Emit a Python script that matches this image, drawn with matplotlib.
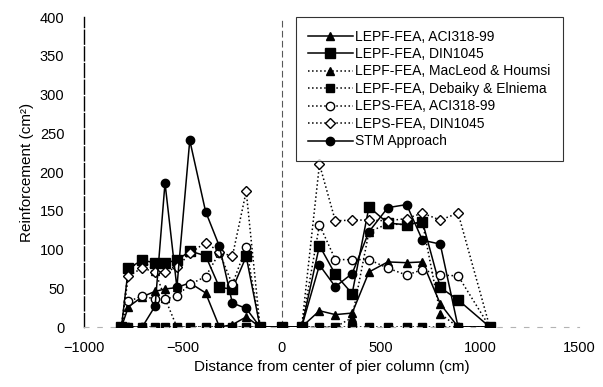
import matplotlib
matplotlib.use("Agg")
import matplotlib.pyplot as plt

plt.rcParams['font.family'] = ['Liberation Sans', 'DejaVu Sans']

# positions along the cap beam (cm)
x = [-810, -775, -705, -640, -590, -530, -465, -385, -315, -250, -180, -110,
     0, 100, 190, 270, 355, 440, 535, 630, 710, 800, 890, 1050]

lepf_aci = [0, 26, 39, 46, 49, 51, 57, 44, 0, 3, 13, 0,
            0, 0, 21, 16, 18, 71, 84, 83, 84, 30, 0, 0]
lepf_din = [0, 76, 86, 83, 83, 86, 98, 92, 51, 49, 91, 0,
            0, 0, 105, 68, 43, 155, 134, 132, 136, 51, 35, 0]
lepf_macleod = [0, 75, 86, 72, 37, 0, 0, 0, 0, 0, 0, 0,
                0, 0, 0, 0, 12, 123, 133, 132, 135, 17, 0, 0]
lepf_debaiky = [0] * 24
leps_aci = [0, 33, 40, 36, 36, 40, 55, 65, 96, 55, 103, 0,
            0, 0, 132, 87, 87, 87, 76, 67, 74, 67, 66, 0]
leps_din = [0, 66, 76, 71, 71, 77, 95, 109, 97, 91, 175, 0,
            0, 0, 210, 137, 138, 138, 137, 140, 147, 138, 147, 0]
stm = [0, 0, 0, 27, 186, 51, 241, 149, 104, 31, 24, 0,
       0, 0, 80, 52, 69, 123, 154, 158, 112, 107, 0, 0]

fig, ax = plt.subplots(figsize=(6.03, 3.87), dpi=100)
fig.subplots_adjust(left=0.139, right=0.96, bottom=0.155, top=0.956)

ax.axvline(0, color='0.35', lw=0.8, ls=(0, (6, 3)), zorder=1)

ax.plot(x, lepf_macleod, ls=':', color='k', lw=1.1, marker='^', ms=5.5,
        label='LEPF-FEA, MacLeod & Houmsi', zorder=2)
ax.plot(x, lepf_debaiky, ls=':', color='k', lw=1.1, marker='s', ms=6,
        label='LEPF-FEA, Debaiky & Elniema', zorder=2)
ax.plot(x, lepf_aci, ls='-', color='k', lw=1.1, marker='^', ms=6,
        label='LEPF-FEA, ACI318-99', zorder=3)
ax.plot(x, lepf_din, ls='-', color='k', lw=1.1, marker='s', ms=6.5,
        label='LEPF-FEA, DIN1045', zorder=3)
ax.plot(x, leps_aci, ls=':', color='k', lw=1.1, marker='o', ms=6,
        mfc='white', mec='k', label='LEPS-FEA, ACI318-99', zorder=3)
ax.plot(x, leps_din, ls=':', color='k', lw=1.1, marker='D', ms=4.8,
        mfc='white', mec='k', label='LEPS-FEA, DIN1045', zorder=3)
ax.plot(x, stm, ls='-', color='k', lw=1.1, marker='o', ms=6,
        label='STM Approach', zorder=3)

ax.set_xlim(-1000, 1500)
ax.set_ylim(0, 400)
ax.set_xticks([-1000, -500, 0, 500, 1000, 1500])
ax.set_yticks(range(0, 401, 50))
ax.set_xticklabels(['\u22121000', '\u2212500', '0', '500', '1000', '1500'])
ax.tick_params(axis='both', length=0, labelsize=10.5)
ax.tick_params(axis='y', pad=14)
ax.tick_params(axis='x', pad=10)

ax.set_xlabel('Distance from center of pier column (cm)', fontsize=11)
ax.set_ylabel('Reinforcement (cm\u00b2)', fontsize=11)

for s in ['top', 'right']:
    ax.spines[s].set_visible(False)
ax.spines['left'].set_linestyle((0, (10, 2)))
ax.spines['left'].set_linewidth(1)
ax.spines['bottom'].set_color('0.7')
ax.spines['bottom'].set_linestyle((0, (4, 8)))

handles, labels = ax.get_legend_handles_labels()
order = [2, 3, 0, 1, 4, 5, 6]
leg = ax.legend([handles[i] for i in order], [labels[i] for i in order],
                loc='upper left', bbox_to_anchor=(0.428, 1.0), borderaxespad=0,
                fontsize=10, frameon=True, fancybox=False, edgecolor='k',
                handlelength=3.2, handletextpad=0.2, labelspacing=0.25,
                borderpad=0.9)
leg.get_frame().set_linewidth(0.8)

fig.savefig('out.png', dpi=100)
